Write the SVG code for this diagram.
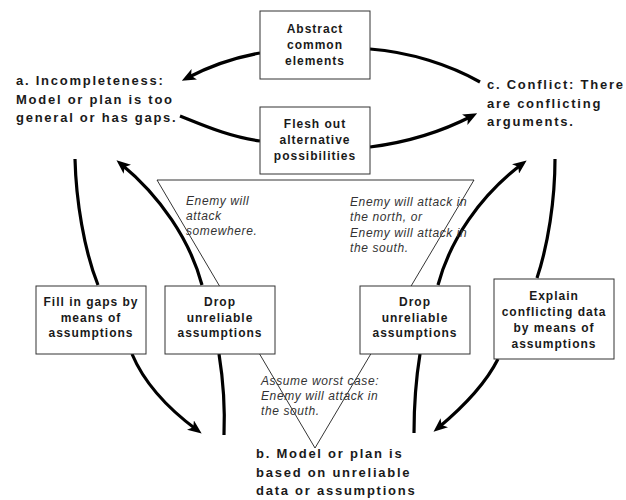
<svg xmlns="http://www.w3.org/2000/svg" width="626" height="500" viewBox="0 0 626 500">
<style>
.box{fill:#fff;stroke:#333;stroke-width:1}
.bt{font-family:"Liberation Sans",Arial,sans-serif;font-weight:bold;font-size:12px;letter-spacing:1px;fill:#1a1a1a;text-anchor:middle}
.tt{font-family:"Liberation Sans",Arial,sans-serif;font-weight:bold;font-size:13px;letter-spacing:1.75px;fill:#1a1a1a}
.it{font-family:"Liberation Sans",Arial,sans-serif;font-style:italic;font-size:12px;letter-spacing:0.6px;fill:#333}
.c{fill:none;stroke:#000;stroke-width:3.2}
.tri{fill:none;stroke:#000;stroke-width:0.8}
</style>
<defs>
<marker id="ah" viewBox="0 0 12 10" markerWidth="14" markerHeight="12" markerUnits="userSpaceOnUse" refX="7" refY="5" orient="auto">
<path d="M0,0 L12,5 L0,10 L3,5 z" fill="#000"/>
</marker>
</defs>
<g id="triangle">
<polygon class="tri" points="157,180 474,180 315,448"/>
</g>
<g id="connectors">
<path class="c" d="M260,53 C232,58 208,67 187,78" marker-end="url(#ah)"/>
<path class="c" d="M180,116 C205,126 230,137 260,141"/>
<path class="c" d="M370,49 C410,52 450,65 480,82"/>
<path class="c" d="M370,147 C410,142 443,131 472,116" marker-end="url(#ah)"/>
<path class="c" d="M75,159 C76,200 84,250 98,285"/>
<path class="c" d="M132,354 C145,385 170,410 197,430" marker-end="url(#ah)"/>
<path class="c" d="M202,285 C190,240 160,196 121,164" marker-end="url(#ah)"/>
<path class="c" d="M219,354 C224,385 225,410 224,435"/>
<path class="c" d="M438,285 C450,240 480,196 522,164" marker-end="url(#ah)"/>
<path class="c" d="M420,354 C415,385 414,410 414,433"/>
<path class="c" d="M555,159 C555,200 548,245 537,278"/>
<path class="c" d="M498,359 C485,385 462,408 438,428" marker-end="url(#ah)"/>
</g>
<g id="node-a">
<text class="tt" x="16" y="85">a. Incompleteness:</text>
<text class="tt" x="16" y="103.5">Model or plan is too</text>
<text class="tt" x="16" y="122">general or has gaps.</text>
</g>
<g id="node-c">
<text class="tt" x="487" y="89">c. Conflict: There</text>
<text class="tt" x="487" y="107.5">are conflicting</text>
<text class="tt" x="487" y="126">arguments.</text>
</g>
<g id="node-b">
<text class="tt" x="256" y="458">b. Model or plan is</text>
<text class="tt" x="256" y="476.5">based on unreliable</text>
<text class="tt" x="256" y="495">data or assumptions</text>
</g>
<g id="abstract">
<rect class="box" x="260" y="11" width="110" height="68"/>
<text class="bt" x="315" y="33">Abstract</text>
<text class="bt" x="315" y="49">common</text>
<text class="bt" x="315" y="65">elements</text>
</g>
<g id="flesh">
<rect class="box" x="260" y="107" width="110" height="67"/>
<text class="bt" x="315" y="128">Flesh out</text>
<text class="bt" x="315" y="144">alternative</text>
<text class="bt" x="315" y="160">possibilities</text>
</g>
<g id="fill-gaps">
<rect class="box" x="36" y="286" width="110" height="68"/>
<text class="bt" x="91" y="306">Fill in gaps by</text>
<text class="bt" x="91" y="321.5">means of</text>
<text class="bt" x="91" y="337">assumptions</text>
</g>
<g id="drop-left">
<rect class="box" x="165" y="286" width="110" height="68"/>
<text class="bt" x="220" y="306">Drop</text>
<text class="bt" x="220" y="321.5">unreliable</text>
<text class="bt" x="220" y="337">assumptions</text>
</g>
<g id="drop-right">
<rect class="box" x="360" y="286" width="110" height="68"/>
<text class="bt" x="415" y="306">Drop</text>
<text class="bt" x="415" y="321.5">unreliable</text>
<text class="bt" x="415" y="337">assumptions</text>
</g>
<g id="explain">
<rect class="box" x="494" y="279" width="120" height="80"/>
<text class="bt" x="554" y="300">Explain</text>
<text class="bt" x="554" y="316">conflicting data</text>
<text class="bt" x="554" y="332">by means of</text>
<text class="bt" x="554" y="348">assumptions</text>
</g>
<g id="note-general">
<text class="it" x="186" y="205">Enemy will</text>
<text class="it" x="186" y="220">attack</text>
<text class="it" x="186" y="235">somewhere.</text>
</g>
<g id="note-alternatives">
<text class="it" x="350" y="206">Enemy will attack in</text>
<text class="it" x="350" y="221">the north, or</text>
<text class="it" x="350" y="236.5">Enemy will attack in</text>
<text class="it" x="350" y="252">the south.</text>
</g>
<g id="note-worst">
<text class="it" x="261" y="385">Assume worst case:</text>
<text class="it" x="261" y="400">Enemy will attack in</text>
<text class="it" x="261" y="415">the south.</text>
</g>
</svg>
